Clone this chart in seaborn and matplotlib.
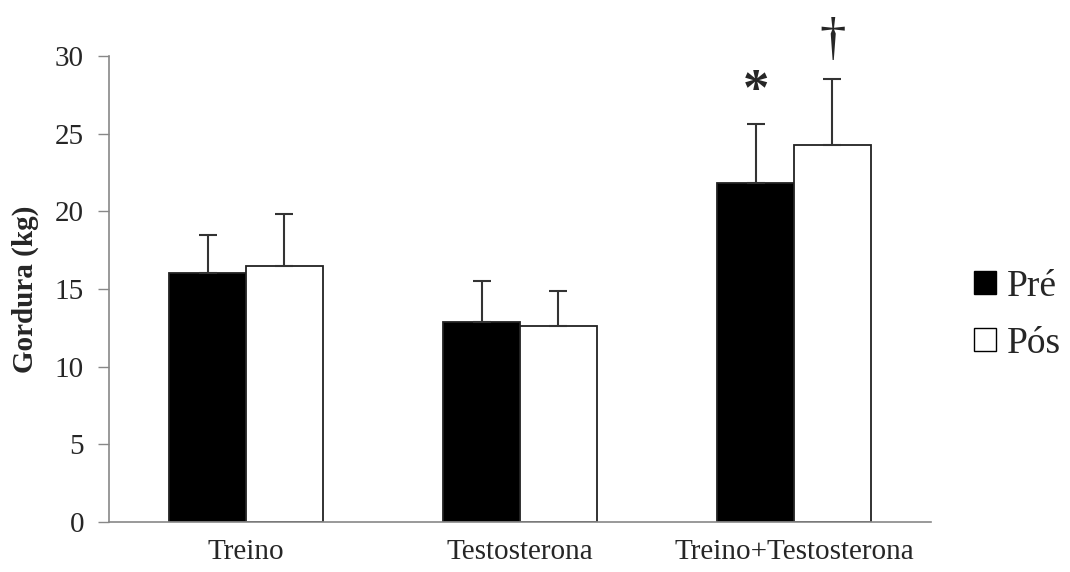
import pandas as pd
import matplotlib
matplotlib.use('Agg')
import matplotlib.pyplot as plt
from matplotlib.patches import Patch
import seaborn as sns

# dados
grupos = ['Treino', 'Testosterona', 'Treino+Testosterona']
momentos = ['Pré', 'Pós']
gordura_pre = [16.0, 12.9, 21.8]
gordura_pos = [16.5, 12.6, 24.3]
dp_pre = [2.45, 2.6, 3.8]
dp_pos = [3.3, 2.3, 4.2]
marcas_pre = ['', '', '*']
marcas_pos = ['', '', '†']

df = pd.DataFrame({
    'Grupo': grupos * 2,
    'Momento': ['Pré'] * 3 + ['Pós'] * 3,
    'Gordura': gordura_pre + gordura_pos,
})

sns.set_style("white")
plt.rcParams['font.family'] = ['Liberation Serif', 'DejaVu Serif']

fig = plt.figure(figsize=(10.7, 5.72), dpi=100)
ax = fig.add_axes([109 / 1070, 50 / 572, 822 / 1070, 466 / 572])

sns.barplot(data=df, x='Grupo', y='Gordura', hue='Momento', order=grupos,
            hue_order=momentos, palette=['black', 'white'], width=0.562,
            errorbar=None, edgecolor='#222222', linewidth=1.3, saturation=1,
            legend=False, ax=ax)

# barras de erro só para cima + marcas de significância
for cont, dp, marcas in zip(ax.containers, [dp_pre, dp_pos], [marcas_pre, marcas_pos]):
    xs = [b.get_x() + b.get_width() / 2 for b in cont]
    ys = [b.get_height() for b in cont]
    ax.errorbar(xs, ys, yerr=[[0] * len(dp), dp], fmt='none', ecolor='#333333',
                elinewidth=1.5, capsize=6.5, capthick=1.5, zorder=3)
    for x, y, s, m in zip(xs, ys, dp, marcas):
        if m == '*':
            ax.text(x, y + s + 0.55, m, ha='center', va='bottom', fontsize=38,
                    fontweight='bold')
        elif m:
            ax.text(x, y + s + 0.9, m, ha='center', va='bottom', fontsize=38)

ax.set_ylim(0, 30)
ax.set_xlim(-0.5, 2.5)
ax.set_yticks(range(0, 31, 5))
ax.set_xlabel('')
ax.set_ylabel('Gordura (kg)', fontsize=21, fontweight='bold', labelpad=11)
ax.tick_params(axis='y', length=8, width=1, color='#888888', direction='out',
               labelsize=21, pad=10, left=True)
ax.tick_params(axis='x', length=0, labelsize=21, pad=12)
for s in ['top', 'right']:
    ax.spines[s].set_visible(False)
for s in ['left', 'bottom']:
    ax.spines[s].set_color('#888888')
    ax.spines[s].set_linewidth(1.2)

handles = [Patch(facecolor='black', edgecolor='black', label='Pré'),
           Patch(facecolor='white', edgecolor='black', label='Pós')]
fig.legend(handles=handles, loc='center left', bbox_to_anchor=(974 / 1070, 1 - 315 / 572),
           frameon=False, fontsize=27, handlelength=0.58, handleheight=0.58,
           handletextpad=0.3, labelspacing=0.6, borderpad=0, borderaxespad=0)

fig.savefig('out.png', dpi=100)
